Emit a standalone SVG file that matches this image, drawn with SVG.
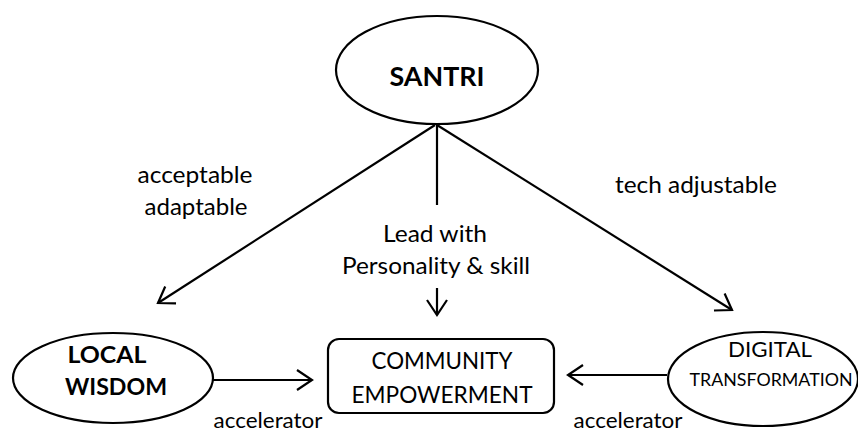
<svg xmlns="http://www.w3.org/2000/svg" width="858" height="434" viewBox="0 0 858 434">
<defs>
<marker id="arr" markerUnits="userSpaceOnUse" markerWidth="20" markerHeight="24" viewBox="-18 -12 20 24" refX="0" refY="0" orient="auto">
<path d="M-15,-10 L0,0 L-15,10" fill="none" stroke="#000" stroke-width="2.2"/>
</marker>
</defs>
<style>
.shape{fill:#fff;stroke:#000;stroke-width:2.2}
.t{font-family:Lato,"Open Sans","Liberation Sans",sans-serif;fill:#000;text-anchor:middle}
.b{font-weight:bold}
.ln{stroke:#000;stroke-width:2.2;fill:none}
</style>
<rect width="858" height="434" fill="#fff"/>
<g id="connectors">
<line class="ln" x1="435" y1="125" x2="158" y2="303" marker-end="url(#arr)"/>
<line class="ln" x1="437" y1="125" x2="732" y2="310" marker-end="url(#arr)"/>
<line class="ln" x1="437" y1="125" x2="437" y2="205"/>
<line class="ln" x1="437" y1="288" x2="437" y2="315" marker-end="url(#arr)"/>
<line class="ln" x1="213" y1="380" x2="312" y2="380" marker-end="url(#arr)"/>
<line class="ln" x1="667" y1="375" x2="568" y2="375" marker-end="url(#arr)"/>
<text class="t" x="195" y="183" font-size="24" textLength="115" lengthAdjust="spacingAndGlyphs">acceptable</text>
<text class="t" x="196" y="215" font-size="24" textLength="103" lengthAdjust="spacingAndGlyphs">adaptable</text>
<text class="t" x="696" y="193" font-size="24" textLength="162" lengthAdjust="spacingAndGlyphs">tech adjustable</text>
<text class="t" x="435" y="242" font-size="24" textLength="104" lengthAdjust="spacingAndGlyphs">Lead with</text>
<text class="t" x="436" y="274" font-size="24" textLength="188" lengthAdjust="spacingAndGlyphs">Personality &amp; skill</text>
<text class="t" x="268" y="428" font-size="22" textLength="109" lengthAdjust="spacingAndGlyphs">accelerator</text>
<text class="t" x="628" y="428" font-size="22" textLength="109" lengthAdjust="spacingAndGlyphs">accelerator</text>
</g>
<g id="santri">
<ellipse class="shape" cx="437" cy="70" rx="101" ry="54"/>
<text class="t b" x="437" y="86" font-size="27" textLength="95" lengthAdjust="spacingAndGlyphs">SANTRI</text>
</g>
<g id="local-wisdom">
<ellipse class="shape" cx="113" cy="378" rx="100" ry="45"/>
<text class="t b" x="107" y="363" font-size="23" textLength="79" lengthAdjust="spacingAndGlyphs">LOCAL</text>
<text class="t b" x="116" y="395" font-size="23" textLength="102" lengthAdjust="spacingAndGlyphs">WISDOM</text>
</g>
<g id="community-empowerment">
<rect class="shape" x="328" y="339" width="226" height="74" rx="11"/>
<text class="t" x="442" y="369" font-size="23" textLength="141" lengthAdjust="spacingAndGlyphs">COMMUNITY</text>
<text class="t" x="442" y="403" font-size="23" textLength="181" lengthAdjust="spacingAndGlyphs">EMPOWERMENT</text>
</g>
<g id="digital-transformation">
<ellipse class="shape" cx="763" cy="379" rx="95" ry="47"/>
<text class="t" x="770" y="357" font-size="22" textLength="84" lengthAdjust="spacingAndGlyphs">DIGITAL</text>
<text class="t" x="771" y="386" font-size="18" textLength="163" lengthAdjust="spacingAndGlyphs">TRANSFORMATION</text>
</g>
</svg>
